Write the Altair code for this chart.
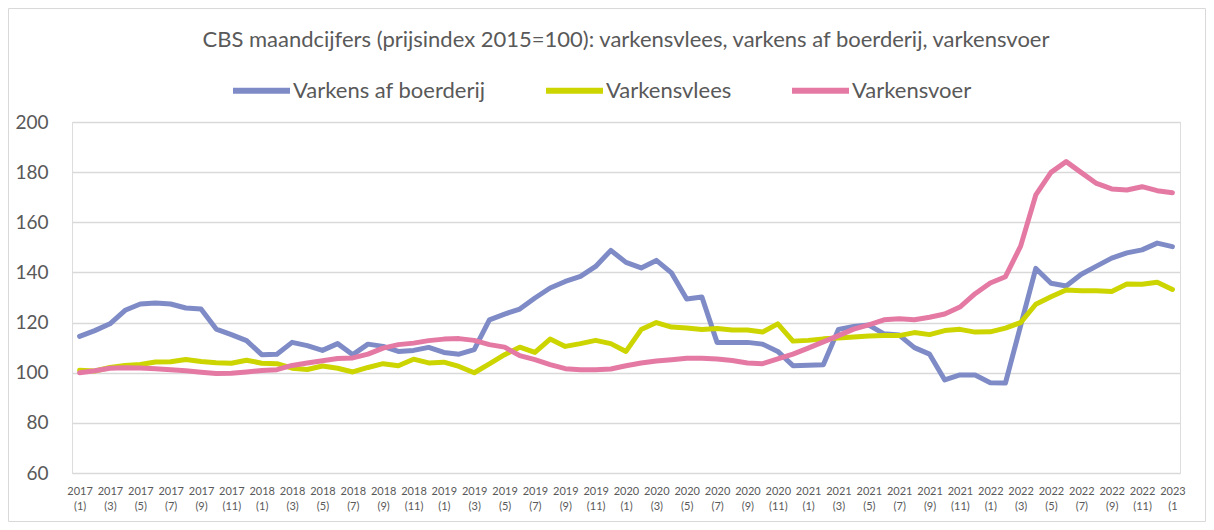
import altair as alt
import pandas as pd

# ---- data -----------------------------------------------------------------
months = [f"{y} ({m})" for y in range(2017, 2023) for m in range(1, 13)] + ["2023 (1)"]
tick_labels = months[::2]

series_names = ["Varkens af boerderij", "Varkensvlees", "Varkensvoer"]
series_colors = ["#7E8BC6", "#CDD500", "#E47AA4"]

varkens_boerderij = [
    114.5, 116.8, 119.5, 124.9, 127.4, 127.8, 127.4, 125.8, 125.4, 117.4,
    115.2, 112.8, 107.2, 107.4, 112.1, 110.8, 108.9, 111.6, 107.2, 111.4,
    110.5, 108.5, 108.9, 110.1, 108.1, 107.4, 109.2, 121.1, 123.4, 125.4,
    129.8, 133.8, 136.4, 138.4, 142.4, 148.8, 144.0, 141.8, 144.8, 139.8,
    129.4, 130.2, 112.1, 112.1, 112.1, 111.4, 108.5, 102.8, 103.0, 103.2,
    117.3, 118.4, 119.0, 115.5, 115.0, 110.0, 107.4, 97.1, 99.1, 99.1,
    96.0, 95.9, 118.8, 141.6, 135.7, 134.6, 139.3, 142.5, 145.7, 147.8,
    149.0, 151.7, 150.3,
]

varkensvlees = [
    101.0, 100.7, 102.1, 102.9, 103.3, 104.3, 104.4, 105.3, 104.5, 104.0,
    103.8, 105.0, 103.8, 103.6, 101.8, 101.3, 102.7, 101.8, 100.3, 102.1,
    103.6, 102.8, 105.4, 103.9, 104.2, 102.5, 100.0, 103.5, 107.2, 110.2,
    108.1, 113.4, 110.5, 111.6, 112.9, 111.6, 108.5, 117.2, 120.0, 118.2,
    117.8, 117.2, 117.6, 117.0, 117.0, 116.2, 119.5, 112.6, 112.9, 113.5,
    113.8, 114.2, 114.6, 114.8, 114.8, 116.0, 115.2, 116.8, 117.3, 116.2,
    116.3, 117.8, 120.0, 127.3, 130.3, 133.0, 132.7, 132.7, 132.4, 135.4,
    135.3, 136.1, 133.2,
]

varkensvoer = [
    100.0, 100.8, 101.8, 102.0, 101.9, 101.6, 101.2, 100.8, 100.2, 99.7,
    99.8, 100.3, 100.9, 101.2, 102.9, 103.9, 104.8, 105.7, 105.9, 107.4,
    109.8, 111.2, 111.8, 112.8, 113.4, 113.6, 112.9, 111.2, 110.2, 106.8,
    105.2, 103.2, 101.6, 101.2, 101.2, 101.5, 102.8, 103.9, 104.7, 105.2,
    105.8, 105.8, 105.5, 104.9, 103.9, 103.6, 105.5, 107.4, 109.8, 112.3,
    114.8, 117.4, 119.1, 121.1, 121.5, 121.1, 122.1, 123.4, 126.2, 131.5,
    135.8, 138.3, 150.5, 170.9, 179.9, 184.2, 179.8, 175.5, 173.3, 172.9,
    174.2, 172.6, 171.8,
]

y_ticks = [60, 80, 100, 120, 140, 160, 180, 200]
title_text = "CBS maandcijfers (prijsindex 2015=100): varkensvlees, varkens af boerderij, varkensvoer"

# ---- long table -----------------------------------------------------------
rows = []
for name, vals in zip(series_names, [varkens_boerderij, varkensvlees, varkensvoer]):
    for m, v in zip(months, vals):
        rows.append({"maand": m, "reeks": name, "index": v})
df = pd.DataFrame(rows)

FONT = "Lato"
TXT = "#595959"
PW, PH = 1108, 351
PAD_L, PAD_T, PAD_R, PAD_B = 64, 114, 26, 49

lines = alt.Chart(df).mark_line(
    strokeWidth=5, strokeCap="round", strokeJoin="round"
).encode(
    x=alt.X(
        "maand:O",
        sort=months,
        scale=alt.Scale(type="point", padding=0.5),
        axis=alt.Axis(
            values=tick_labels,
            labelAngle=0,
            labelExpr="datum.label == '2023 (1)' ? ['2023', '(1'] : split(datum.label, ' ')",
            title=None,
            domain=False,
            ticks=False,
            grid=False,
            labelFont=FONT,
            labelFontSize=11,
            labelColor=TXT,
            labelPadding=12,
            labelLineHeight=15,
            labelOverlap=False,
        ),
    ),
    y=alt.Y(
        "index:Q",
        scale=alt.Scale(domain=[60, 200], nice=False, zero=False),
        axis=alt.Axis(
            values=y_ticks,
            title=None,
            domain=False,
            ticks=False,
            grid=True,
            gridColor="#D9D9D9",
            gridWidth=1.5,
            labelFont=FONT,
            labelFontSize=19,
            labelColor=TXT,
            labelPadding=24,
        ),
    ),
    color=alt.Color(
        "reeks:N",
        scale=alt.Scale(domain=series_names, range=series_colors),
        legend=alt.Legend(
            title=None,
            orient="none",
            legendX=158,
            legendY=-63,
            direction="horizontal",
            columns=3,
            symbolType="stroke",
            symbolSize=3249,
            symbolStrokeWidth=6,
            labelFont=FONT,
            labelFontSize=22,
            labelColor=TXT,
            labelOffset=0,
            labelLimit=400,
            columnPadding=48,
        ),
    ),
)

frame = alt.Chart(alt.Data(values=[{}])).mark_rect(
    fill=None, stroke="#D9D9D9", strokeWidth=1
).encode(
    x=alt.value(-PAD_L + 0.5),
    x2=alt.value(PW + PAD_R - 0.5),
    y=alt.value(-PAD_T + 0.5),
    y2=alt.value(PH + PAD_B - 0.5),
)

chart = alt.layer(frame, lines).properties(
    width=PW,
    height=PH,
    title=alt.Title(
        title_text,
        font=FONT,
        fontSize=22,
        fontWeight="normal",
        color=TXT,
        anchor="middle",
        offset=0,
        dy=44,
    ),
    padding={"left": PAD_L, "top": PAD_T, "right": PAD_R, "bottom": PAD_B},
    autosize=alt.AutoSizeParams(type="none"),
).configure_view(stroke=None).configure(background="white")

chart.save("out.html", embed_options={"renderer": "svg", "actions": False})
